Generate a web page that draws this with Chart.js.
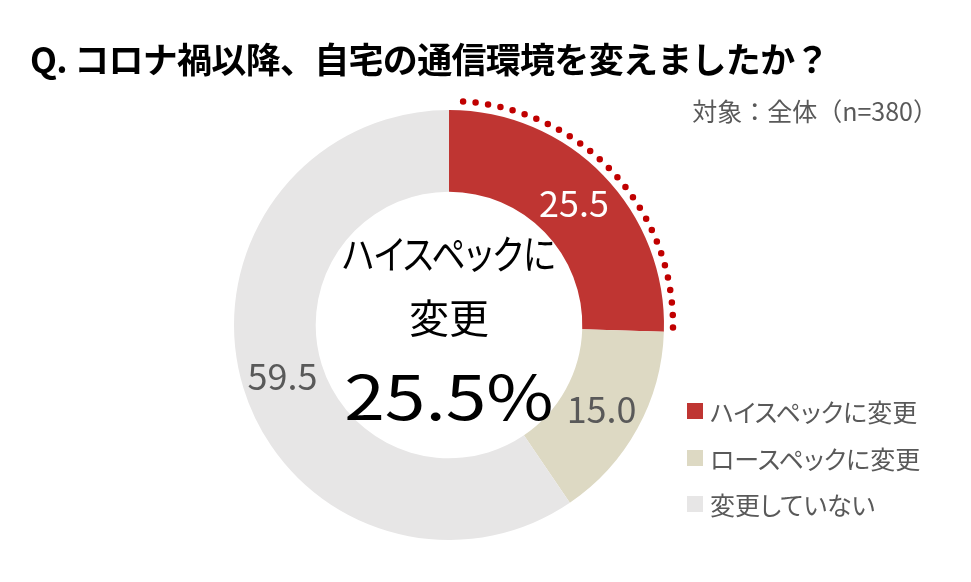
<!DOCTYPE html>
<html lang="ja">
<head>
<meta charset="utf-8">
<script src="https://cdn.jsdelivr.net/npm/chart.js@4"></script>
<style>
	body { margin: 0; background: #fff; }
	#wrap { position: relative; width: 971px; height: 582px; overflow: hidden; font-family: "Noto Sans CJK JP", "Noto Sans", sans-serif; }
	#chart { position: absolute; left: 0; top: 0; }
	.txt { position: absolute; white-space: nowrap; line-height: 1; }
	#title { left: 30px; top: 40px; font-size: 35px; font-weight: bold; color: #000; letter-spacing: -0.7px; }
	#subtitle { right: 33px; top: 98px; font-size: 25px; color: #595959; }
	.center { left: 249px; width: 400px; text-align: center; color: #000; font-feature-settings: "palt"; }
	#legend { position: absolute; left: 687px; top: 388px; font-feature-settings: "palt"; }
	.leg-row { display: flex; align-items: center; height: 46.5px; font-size: 25px; color: #595959; }
	.leg-box { width: 16px; height: 16px; margin-right: 7px; }
</style>
</head>
<body>
<div id="wrap">
	<canvas id="chart" width="971" height="582"></canvas>
	<div id="title" class="txt">Q. コロナ禍以降、自宅の通信環境を変えましたか？</div>
	<div id="subtitle" class="txt">対象：全体（n=380）</div>
	<div class="txt center" style="top:232px;font-size:40px;transform:scaleX(0.85);">ハイスペックに</div>
	<div class="txt center" style="top:296px;font-size:40px;">変更</div>
	<div class="txt center" style="top:362px;font-size:62px;transform:scaleX(1.18);">25.5%</div>
	<div id="legend"></div>
</div>
<script>
	const categories = ["ハイスペックに変更", "ロースペックに変更", "変更していない"];
	const values = [25.5, 15.0, 59.5];
	const colors = ["#BF3532", "#DDD9C3", "#E7E6E6"];
	const labelColors = ["#FFFFFF", "#595959", "#595959"];

	// legend
	const legend = document.getElementById("legend");
	categories.forEach((name, i) => {
		const row = document.createElement("div");
		row.className = "leg-row";
		row.innerHTML = `<span class="leg-box" style="background:${colors[i]}"></span><span>${name}</span>`;
		legend.appendChild(row);
	});

	// value labels in the middle of each ring segment
	const valueLabels = {
		id: "valueLabels",
		afterDatasetsDraw(chart) {
			const ctx = chart.ctx;
			const meta = chart.getDatasetMeta(0);
			ctx.save();
			ctx.font = '36px "Noto Sans CJK JP", sans-serif';
			ctx.textAlign = "center";
			ctx.textBaseline = "middle";
			meta.data.forEach((arc, i) => {
				const p = arc.tooltipPosition();
				ctx.fillStyle = labelColors[i];
				ctx.fillText(values[i].toFixed(1), p.x, p.y);
			});
			ctx.restore();
		}
	};

	// dotted arc along the outside of the first segment
	const dottedArc = {
		id: "dottedArc",
		afterDatasetsDraw(chart) {
			const ctx = chart.ctx;
			const arc = chart.getDatasetMeta(0).data[0];
			const r = arc.outerRadius + 9;
			ctx.save();
			ctx.strokeStyle = "#C00000";
			ctx.lineWidth = 6.5;
			ctx.lineCap = "round";
			ctx.setLineDash([0, 12.6]);
			ctx.beginPath();
			ctx.arc(arc.x, arc.y, r, arc.startAngle + 0.063, arc.endAngle - 0.016);
			ctx.stroke();
			ctx.restore();
		}
	};

	new Chart(document.getElementById("chart"), {
		type: "doughnut",
		data: {
			labels: categories,
			datasets: [{
				data: values,
				backgroundColor: colors,
				borderWidth: 0
			}]
		},
		options: {
			responsive: false,
			animation: false,
			cutout: "62%",
			layout: { padding: { left: 234, right: 307, top: 110, bottom: 42 } },
			plugins: {
				legend: { display: false },
				tooltip: { enabled: false }
			}
		},
		plugins: [valueLabels, dottedArc]
	});
</script>
</body>
</html>
